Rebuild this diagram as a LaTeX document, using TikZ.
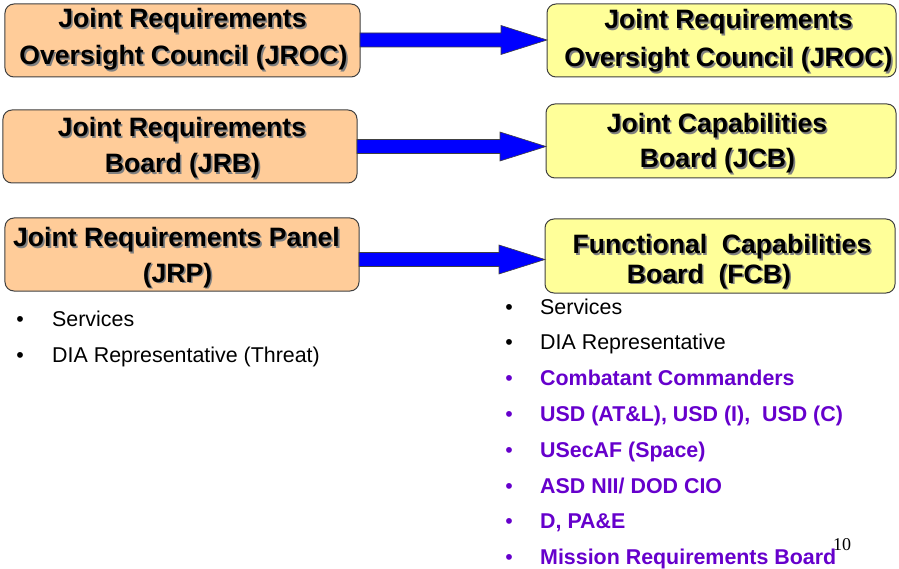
\documentclass[tikz,border=0pt]{standalone}
\usepackage{fontspec}
\setmainfont{Liberation Sans}
\newfontfamily\timesfont{Liberation Serif}
\usetikzlibrary{calc}
\definecolor{peach}{RGB}{255,204,153}
\definecolor{paleyellow}{RGB}{255,255,153}
\definecolor{boxline}{RGB}{64,64,64}
\definecolor{violettext}{RGB}{102,0,204}
\definecolor{arrowblue}{RGB}{0,0,255}
\tikzset{
  orgbox/.style={draw=boxline, line width=1bp, rounded corners=9bp, inner sep=0pt, outer sep=0pt},
  leftbox/.style={orgbox, fill=peach},
  rightbox/.style={orgbox, fill=paleyellow},
  btext/.style={anchor=base, inner sep=0pt, font=\fontsize{26.6bp}{30bp}\selectfont\bfseries},
  bshadow/.style={btext, text=black!50},
  litem/.style={anchor=base west, inner sep=0pt, font=\fontsize{21.4bp}{25bp}\selectfont},
  bullet/.style={anchor=base, inner sep=0pt, font=\fontsize{21.4bp}{25bp}\selectfont},
  vitem/.style={litem, text=violettext, font=\fontsize{21.4bp}{25bp}\selectfont\bfseries},
  vbullet/.style={bullet, text=violettext},
  blockarrow/.style={draw=boxline, line width=0.6bp, fill=arrowblue, line join=miter}
}
\newcommand\shline[4]{%
  \node[bshadow] (#1s) at (#2+1.6,#3+1.6) {#4};
  \node[btext] (#1) at (#2,#3) {#4};}
\newcommand\blockarr[3]{%
  \draw[blockarrow] let \p1=(#1), \p2=(#2) in
    (\x1,\y1+7bp) -- (\x2-46bp,\y1+7bp) -- (\x2-46bp,\y1+14.5bp) -- (\x2,\y1)
    -- (\x2-46bp,\y1-14.5bp) -- (\x2-46bp,\y1-7bp) -- (\x1,\y1-7bp) -- cycle;}
\begin{document}
\begin{tikzpicture}[x=1bp,y=-1bp]
\useasboundingbox (0,0) rectangle (899,569);
% boxes
\node[leftbox, minimum width=355bp, minimum height=73bp] (L1) at (182.5,40.5) {};
\node[leftbox, minimum width=354bp, minimum height=73bp] (L2) at (180,146.5) {};
\node[leftbox, minimum width=354bp, minimum height=73bp] (L3) at (182,254.5) {};
\node[rightbox, minimum width=349bp, minimum height=73bp] (R1) at (721.5,40.5) {};
\node[rightbox, minimum width=350bp, minimum height=74bp] (R2) at (721,141) {};
\node[rightbox, minimum width=350bp, minimum height=74bp] (R3) at (720,256) {};
% arrow levels
\coordinate (y1) at (0,40);
\coordinate (y2) at (0,146.5);
\coordinate (y3) at (0,259.5);
\blockarr{L1.east |- y1}{R1.west |- y1}{}
\blockarr{L2.east |- y2}{R2.west |- y2}{}
\blockarr{L3.east |- y3}{R3.west |- y3}{}
% box texts
\shline{l1a}{182.5}{28}{Joint Requirements}
\shline{l1b}{183.5}{65}{Oversight Council (JROC)}
\shline{l2a}{182}{137}{Joint Requirements}
\shline{l2b}{182.5}{173}{Board (JRB)}
\shline{l3a}{176.5}{247}{Joint Requirements Panel}
\shline{l3b}{177.5}{282}{(JRP)}
\shline{r1a}{728.5}{29}{Joint Requirements}
\shline{r1b}{728.5}{67}{Oversight Council (JROC)}
\shline{r2a}{717}{133}{Joint Capabilities}
\shline{r2b}{717.5}{168}{Board (JCB)}
\shline{r3a}{722}{254}{Functional\ \ Capabilities}
\shline{r3b}{709}{283}{Board\ \ (FCB)}
% left list
\node[bullet] (lb1) at (20,326) {•};
\node[litem] (lt1) at (52,326) {Services};
\node[bullet] (lb2) at (20,362) {•};
\node[litem] (lt2) at (52,362) {DIA Representative (Threat)};
% right list
\node[bullet] (rb1) at (509,314) {•};
\node[litem] (rt1) at (540,314) {Services};
\node[bullet] (rb2) at (509,349.5) {•};
\node[litem] (rt2) at (540,349.5) {DIA Representative};
\node[vbullet] (rb3) at (509,385.5) {•};
\node[vitem] (rt3) at (540,385.5) {Combatant Commanders};
\node[vbullet] (rb4) at (509,421.5) {•};
\node[vitem] (rt4) at (540,421.5) {USD (AT\&L), USD (I),\ \ USD (C)};
\node[vbullet] (rb5) at (509,457) {•};
\node[vitem] (rt5) at (540,457) {USecAF (Space)};
\node[vbullet] (rb6) at (509,493) {•};
\node[vitem] (rt6) at (540,493) {ASD NII/ DOD CIO};
\node[vbullet] (rb7) at (509,528.5) {•};
\node[vitem] (rt7) at (540,528.5) {D, PA\&E};
\node[vbullet] (rb8) at (509,564) {•};
\node[vitem] (rt8) at (540,564) {Mission Requirements Board};
% page number
\node[anchor=base west, inner sep=0pt, font=\timesfont\fontsize{18bp}{20bp}\selectfont] (pg) at (833,550) {10};
\end{tikzpicture}
\end{document}
